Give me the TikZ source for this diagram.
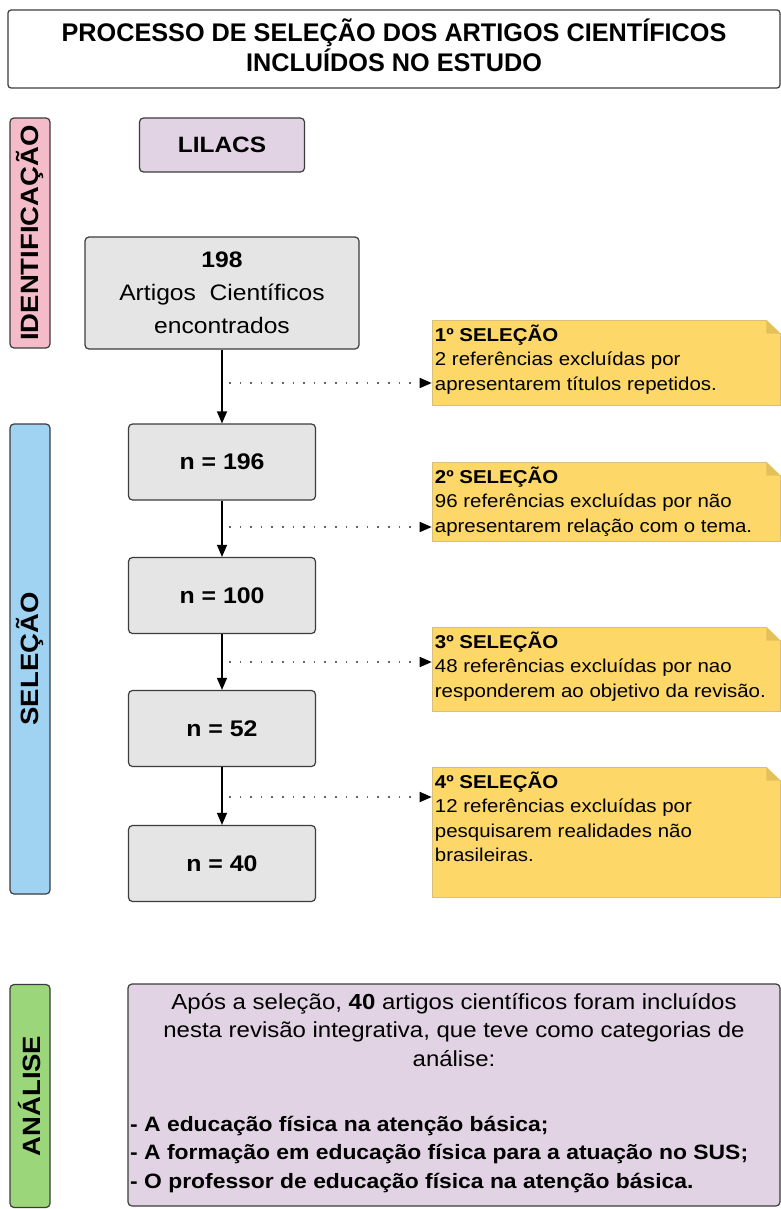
\documentclass[tikz,border=0pt]{standalone}
\usepackage{fontspec}
\setmainfont{Liberation Sans}[FakeStretch=1.1]
\newfontfamily\titlefont{Liberation Sans}[FakeStretch=0.99]
\usetikzlibrary{arrows.meta}
\definecolor{idpink}{HTML}{F4BCC9}
\definecolor{selblue}{HTML}{A0D2F2}
\definecolor{angreen}{HTML}{9BD67A}
\definecolor{lilacfill}{HTML}{E2D3E4}
\definecolor{boxgray}{HTML}{E5E5E5}
\definecolor{noteyellow}{HTML}{FDD868}
\definecolor{notefold}{HTML}{E3C05A}
\definecolor{noteedge}{HTML}{D8C07A}
\definecolor{edgegray}{HTML}{3C3C3C}
\newcommand\setfs[2]{\fontsize{#1}{#2}\selectfont}
\begin{document}
\begin{tikzpicture}[x=1pt,y=-1pt,
  base/.style={draw=edgegray, line width=1.2pt, rounded corners=4pt, inner sep=0pt},
  titlebox/.style={base, fill=white, rounded corners=3pt, minimum width=772, minimum height=78, align=center, text depth=7pt, font=\titlefont\setfs{25.5}{30}\bfseries},
  sidebar/.style={base, rotate=90, minimum height=40, font=\setfs{25}{25}\bfseries},
  lilac/.style={base, fill=lilacfill, minimum width=165, minimum height=54, font=\setfs{22.2}{26}\bfseries},
  graybox/.style={base, fill=boxgray},
  nbox/.style={graybox, minimum width=187, minimum height=76, font=\setfs{22.6}{26}\bfseries},
  notebox/.style={draw=noteedge, line width=0.6pt, fill=noteyellow, minimum width=348, inner sep=0pt},
  notetext/.style={anchor=north west, align=left, inner sep=0pt, font=\setfs{18.6}{24.5}},
  flow/.style={draw=black, line width=1.2pt, -{Triangle[length=12pt,width=10pt]}},
  dots/.style={draw=black!60, line width=1.6pt, dash pattern=on 1.6pt off 9pt, -{Triangle[length=12pt,width=10pt,black]}},
  anbox/.style={base, fill=lilacfill}
]
\useasboundingbox (0,0) rectangle (781,1209);
\fill[white] (0,0) rectangle (781,1209);

% title
\node[titlebox] (title) at (394,49) {PROCESSO DE SELEÇÃO DOS ARTIGOS CIENTÍFICOS\\INCLUÍDOS NO ESTUDO};

% side bars
\node[sidebar, fill=idpink, minimum width=230] (idbar) at (30,233) {IDENTIFICAÇÃO};
\node[sidebar, fill=selblue, minimum width=470] (selbar) at (30,659) {SELEÇÃO};
\node[sidebar, fill=angreen, minimum width=223] (anbar) at (30,1096) {ANÁLISE};

% main column
\node[lilac] (lilacs) at (222,145) {LILACS};
\node[graybox, minimum width=274, minimum height=112, align=center, font=\setfs{22.4}{33}] (n198) at (222,293) {\textbf{198}\\Artigos\ \ Científicos\\encontrados};
\node[nbox] (n196) at (222,462) {n = 196};
\node[nbox] (n100) at (222,595.5) {n = 100};
\node[nbox] (n52) at (222,728.5) {n = 52};
\node[nbox] (n40) at (222,863.5) {n = 40};

\draw[flow] (n198) -- (n196);
\draw[flow] (n196) -- (n100);
\draw[flow] (n100) -- (n52);
\draw[flow] (n52) -- (n40);

% notes
\node[notebox, minimum height=85] (note1) at (606,362.5) {};
\node[notebox, minimum height=79] (note2) at (606,501.5) {};
\node[notebox, minimum height=84] (note3) at (606,669) {};
\node[notebox, minimum height=130] (note4) at (606,832) {};
\foreach \n in {note1,note2,note3,note4}{
  \fill[white] ([xshift=-14pt]\n.north east) -- ([xshift=1pt]\n.north east) -- ([yshift=-14pt,xshift=1pt]\n.north east) -- cycle;
  \fill[notefold] ([xshift=-14pt]\n.north east) -- ([xshift=-14pt,yshift=-14pt]\n.north east) -- ([yshift=-14pt]\n.north east) -- cycle;
}
\node[notetext] (t1) at ([xshift=3pt,yshift=-5pt]note1.north west) {\textbf{1º SELEÇÃO}\\2 referências excluídas por\\apresentarem títulos repetidos.};
\node[notetext] (t2) at ([xshift=3pt,yshift=-5pt]note2.north west) {\textbf{2º SELEÇÃO}\\96 referências excluídas por não\\apresentarem relação com o tema.};
\node[notetext] (t3) at ([xshift=3pt,yshift=-5pt]note3.north west) {\textbf{3º SELEÇÃO}\\48 referências excluídas por nao\\responderem ao objetivo da revisão.};
\node[notetext] (t4) at ([xshift=3pt,yshift=-5pt]note4.north west) {\textbf{4º SELEÇÃO}\\12 referências excluídas por\\pesquisarem realidades não\\brasileiras.};

\coordinate (d1) at (229,383);
\coordinate (d2) at (229,527);
\coordinate (d3) at (229,662);
\coordinate (d4) at (229,797);
\draw[dots] (d1) -- (d1 -| note1.west);
\draw[dots] (d2) -- (d2 -| note2.west);
\draw[dots] (d3) -- (d3 -| note3.west);
\draw[dots] (d4) -- (d4 -| note4.west);

% analysis
\node[anbox, minimum width=652, minimum height=222] (analysis) at (454,1095) {};
\node[anchor=north, align=center, inner sep=0pt, font=\setfs{21.8}{28.5}] (antext) at (454,993) {Após a seleção, \textbf{40} artigos científicos foram incluídos\\nesta revisão integrativa, que teve como categorias de\\análise:};
\node[anchor=north west, align=left, inner sep=0pt, font=\setfs{20.8}{28.5}\bfseries] (anlist) at (130,1116) {- A educação física na atenção básica;\\- A formação em educação física para a atuação no SUS;\\- O professor de educação física na atenção básica.};
\end{tikzpicture}
\end{document}
